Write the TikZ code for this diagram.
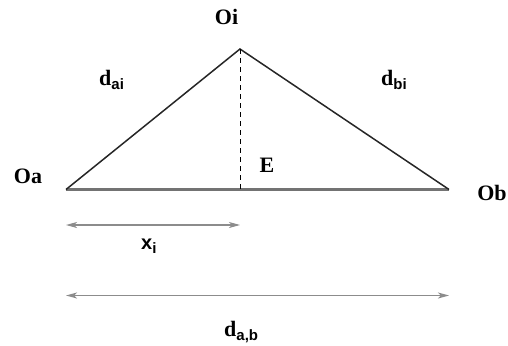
\documentclass[tikz,border=0pt]{standalone}
\usepackage{fontspec}
\setmainfont{Liberation Serif}[BoldFont={* Bold}]
\setsansfont{Liberation Sans}
\newfontfamily\lblfont{Liberation Serif Bold}
\newfontfamily\subfont{Liberation Sans Bold}
\usetikzlibrary{arrows.meta}
\newcommand{\subsf}[1]{\raisebox{-4.5pt}{\subfont\fontsize{15}{15}\selectfont #1}}
\begin{document}
\begin{tikzpicture}[x=1pt,y=-1pt,
  lbl/.style={font=\lblfont\fontsize{22}{22}\selectfont, inner sep=0pt},
  side/.style={line width=1.5pt, black!85},
  basel/.style={line width=2.2pt, black!55},
  dim/.style={line width=1.1pt, black!45, {Stealth[length=11pt,width=6pt,inset=3pt]}-{Stealth[length=11pt,width=6pt,inset=3pt]}}]
\useasboundingbox (0,0) rectangle (508,345);
\coordinate (A) at (66,189.5);
\coordinate (I) at (240,49);
\coordinate (B) at (449,189.5);
\coordinate (F) at (240,189.5);
\draw[basel] (A) -- (B);
\draw[side, line join=miter] (A) -- (I) -- (B);
\draw[line width=0.9pt, dash pattern=on 5pt off 4pt] (I) -- (F);
\node[lbl] (oi) at (226.5,16.5) {Oi};
\node[lbl] (oa) at (28,176) {Oa};
\node[lbl] (ob) at (492,192.5) {Ob};
\node[lbl] (e) at (267,165) {E};
\node[lbl, anchor=base west] (dai) at (99,85) {d\subsf{ai}};
\node[lbl, anchor=base west] (dbi) at (381,85) {d\subsf{bi}};
\coordinate (x1) at (66,225);
\coordinate (x2) at (240,225);
\draw[dim] (x1) -- (x2);
\node[inner sep=0pt, anchor=base west, font=\subfont\fontsize{20}{20}\selectfont] (xi) at (141,249) {x\subsf{i}};
\coordinate (d1) at (66,295.5);
\coordinate (d2) at (449,295.5);
\draw[dim] (d1) -- (d2);
\node[lbl, anchor=base west] (dab) at (224,336) {d\subsf{a,b}};
\end{tikzpicture}
\end{document}
